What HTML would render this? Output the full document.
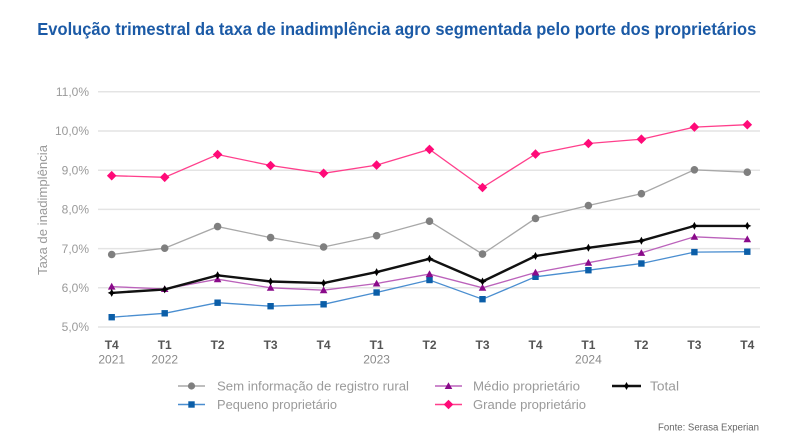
<!DOCTYPE html>
<html><head><meta charset="utf-8"><style>
html,body{margin:0;padding:0;background:#fff;}
svg{display:block;font-family:"Liberation Sans",Arial,sans-serif;}
</style></head><body>
<svg width="803" height="447" viewBox="0 0 803 447" xmlns="http://www.w3.org/2000/svg">
<defs>
<marker id="mP" markerUnits="userSpaceOnUse" markerWidth="12" markerHeight="12" refX="6" refY="6" overflow="visible"><path d="M6 1.2 L10.8 6 L6 10.8 L1.2 6 Z" fill="#ff0a78"/></marker>
<marker id="mG" markerUnits="userSpaceOnUse" markerWidth="12" markerHeight="12" refX="6" refY="6" overflow="visible"><circle cx="6" cy="6" r="3.8" fill="#7f7f7f"/></marker>
<marker id="mK" markerUnits="userSpaceOnUse" markerWidth="12" markerHeight="12" refX="6" refY="6" overflow="visible"><path d="M6 2 L8.2 6 L6 10 L3.8 6 Z M2 6 L6 4 L10 6 L6 8 Z" fill="#000"/></marker>
<marker id="mM" markerUnits="userSpaceOnUse" markerWidth="12" markerHeight="12" refX="6" refY="6" overflow="visible"><path d="M6 2.2 L9.8 9 L2.2 9 Z" fill="#8a0a8a"/></marker>
<marker id="mB" markerUnits="userSpaceOnUse" markerWidth="12" markerHeight="12" refX="6" refY="6" overflow="visible"><rect x="2.8" y="2.8" width="6.4" height="6.4" fill="#0b5ea8"/></marker>
</defs>

<text x="37.3" y="35" font-size="17.5" font-weight="bold" fill="#1b5aa6" textLength="719" lengthAdjust="spacingAndGlyphs">Evolução trimestral da taxa de inadimplência agro segmentada pelo porte dos proprietários</text>

<g stroke="#e4e4e4" stroke-width="1.5">
<line x1="98" y1="91.8" x2="760" y2="91.8"/>
<line x1="98" y1="131" x2="760" y2="131"/>
<line x1="98" y1="170.2" x2="760" y2="170.2"/>
<line x1="98" y1="209.4" x2="760" y2="209.4"/>
<line x1="98" y1="248.6" x2="760" y2="248.6"/>
<line x1="98" y1="287.8" x2="760" y2="287.8"/>
<line x1="98" y1="327" x2="760" y2="327"/>
</g>

<g font-size="12" fill="#9a9a9a" text-anchor="end">
<text x="89" y="96">11,0%</text>
<text x="89" y="135.2">10,0%</text>
<text x="89" y="174.4">9,0%</text>
<text x="89" y="213.6">8,0%</text>
<text x="89" y="252.8">7,0%</text>
<text x="89" y="292">6,0%</text>
<text x="89" y="331.2">5,0%</text>
</g>

<text transform="translate(47,210) rotate(-90)" font-size="13" fill="#9a9a9a" text-anchor="middle" textLength="130" lengthAdjust="spacingAndGlyphs">Taxa de inadimplência</text>

<g font-size="12" font-weight="bold" fill="#555" text-anchor="middle">
<text x="111.7" y="349">T4</text>
<text x="164.7" y="349">T1</text>
<text x="217.6" y="349">T2</text>
<text x="270.6" y="349">T3</text>
<text x="323.6" y="349">T4</text>
<text x="376.6" y="349">T1</text>
<text x="429.5" y="349">T2</text>
<text x="482.5" y="349">T3</text>
<text x="535.5" y="349">T4</text>
<text x="588.4" y="349">T1</text>
<text x="641.4" y="349">T2</text>
<text x="694.4" y="349">T3</text>
<text x="747.3" y="349">T4</text>
</g>
<g font-size="12" fill="#8a8a8a" text-anchor="middle">
<text x="111.7" y="363.5">2021</text>
<text x="164.7" y="363.5">2022</text>
<text x="376.6" y="363.5">2023</text>
<text x="588.4" y="363.5">2024</text>
</g>

<!-- Pequeno -->
<polyline fill="none" stroke="#4a8ed0" stroke-width="1.3" marker-start="url(#mB)" marker-mid="url(#mB)" marker-end="url(#mB)"
points="111.7,317.2 164.7,313.3 217.6,302.7 270.6,306.2 323.6,304.3 376.6,292.5 429.5,280 482.5,299.2 535.5,276.8 588.4,270.2 641.4,263.5 694.4,252.1 747.3,251.7"/>
<!-- Medio -->
<polyline fill="none" stroke="#bb62bb" stroke-width="1.3" marker-start="url(#mM)" marker-mid="url(#mM)" marker-end="url(#mM)"
points="111.7,286.6 164.7,289 217.6,279.2 270.6,287.8 323.6,290.2 376.6,283.5 429.5,274.1 482.5,287.8 535.5,272.5 588.4,262.7 641.4,252.9 694.4,236.8 747.3,239.2"/>
<!-- Total -->
<polyline fill="none" stroke="#111" stroke-width="2.4" marker-start="url(#mK)" marker-mid="url(#mK)" marker-end="url(#mK)"
points="111.7,292.9 164.7,289.4 217.6,275.3 270.6,281.5 323.6,283.1 376.6,272.1 429.5,258.8 482.5,281.5 535.5,256 588.4,247.8 641.4,240.8 694.4,225.9 747.3,225.9"/>
<!-- Sem info -->
<polyline fill="none" stroke="#a8a8a8" stroke-width="1.3" marker-start="url(#mG)" marker-mid="url(#mG)" marker-end="url(#mG)"
points="111.7,254.5 164.7,248.2 217.6,226.6 270.6,237.6 323.6,247 376.6,235.7 429.5,221.2 482.5,254.1 535.5,218.4 588.4,205.5 641.4,193.7 694.4,169.8 747.3,172.2"/>
<!-- Grande -->
<polyline fill="none" stroke="#ff3f8c" stroke-width="1.3" marker-start="url(#mP)" marker-mid="url(#mP)" marker-end="url(#mP)"
points="111.7,175.7 164.7,177.3 217.6,154.5 270.6,165.5 323.6,173.3 376.6,165.1 429.5,149.4 482.5,187.5 535.5,154.1 588.4,143.5 641.4,139.2 694.4,127.1 747.3,124.7"/>

<!-- Legend -->
<g font-size="13" fill="#9a9a9a">
<line x1="178" y1="386" x2="205" y2="386" stroke="#a8a8a8" stroke-width="1.5"/>
<circle cx="191.5" cy="386" r="3.6" fill="#7f7f7f"/>
<text x="217" y="390.5" textLength="192" lengthAdjust="spacingAndGlyphs">Sem informação de registro rural</text>

<line x1="435" y1="386" x2="462" y2="386" stroke="#bb62bb" stroke-width="1.5"/>
<path d="M448.5 382.2 L452.3 389 L444.7 389 Z" fill="#8a0a8a"/>
<text x="473" y="390.5" textLength="107" lengthAdjust="spacingAndGlyphs">Médio proprietário</text>

<line x1="612" y1="386" x2="641" y2="386" stroke="#111" stroke-width="2.4"/>
<path d="M626.5 382 L628.7 386 L626.5 390 L624.3 386 Z M622.5 386 L626.5 384 L630.5 386 L626.5 388 Z" fill="#000"/>
<text x="650" y="390.5" textLength="29" lengthAdjust="spacingAndGlyphs">Total</text>

<line x1="178" y1="404.5" x2="205" y2="404.5" stroke="#4a8ed0" stroke-width="1.5"/>
<rect x="188.3" y="401.3" width="6.4" height="6.4" fill="#0b5ea8"/>
<text x="217" y="409" textLength="120" lengthAdjust="spacingAndGlyphs">Pequeno proprietário</text>

<line x1="435" y1="404.5" x2="462" y2="404.5" stroke="#ff3f8c" stroke-width="1.5"/>
<path d="M448.5 399.7 L453.3 404.5 L448.5 409.3 L443.7 404.5 Z" fill="#ff0a78"/>
<text x="473" y="409" textLength="113" lengthAdjust="spacingAndGlyphs">Grande proprietário</text>
</g>

<text x="658" y="430.5" font-size="10" fill="#666" textLength="101" lengthAdjust="spacingAndGlyphs">Fonte: Serasa Experian</text>
</svg>
</body></html>
